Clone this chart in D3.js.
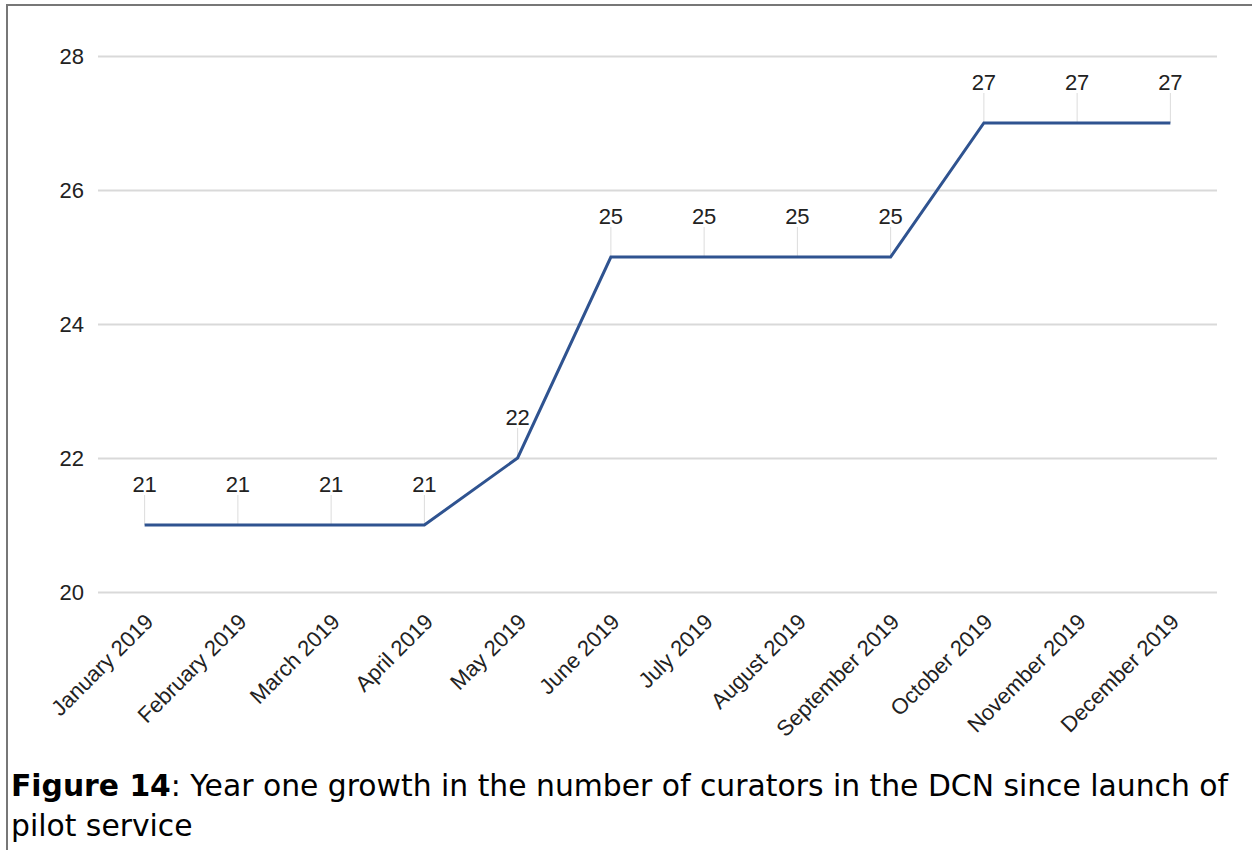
<!DOCTYPE html>
<html>
<head>
<meta charset="utf-8">
<script src="https://cdn.jsdelivr.net/npm/d3@7"></script>
<style>
  html, body { margin: 0; padding: 0; background: #fff; }
  svg { display: block; }
</style>
</head>
<body>
<svg id="chart" width="1252" height="850"></svg>
<script>
// Monthly curator counts for the first year of the pilot service
const months = ["January 2019", "February 2019", "March 2019", "April 2019", "May 2019", "June 2019",
                "July 2019", "August 2019", "September 2019", "October 2019", "November 2019", "December 2019"];
const curators = [21, 21, 21, 21, 22, 25, 25, 25, 25, 27, 27, 27];
const yTicks = [20, 22, 24, 26, 28];
const captionBold = "Figure 14";
const captionRest = ": Year one growth in the number of curators in the DCN since launch of";
const captionLine2 = "pilot service";

const svg = d3.select("#chart");
const W = 1252, H = 850;
const labelFont = "'Liberation Sans', Arial, sans-serif";
const labelSize = "22px";

// frame around the figure
svg.append("path")
  .attr("d", `M7,${H} V5 H${W}`)
  .attr("fill", "none")
  .attr("stroke", "#777")
  .attr("stroke-width", 2);

const plot = { left: 98, right: 1217, top: 56, bottom: 592 };

const x = d3.scalePoint()
  .domain(months)
  .range([plot.left, plot.right])
  .padding(0.5);

const y = d3.scaleLinear()
  .domain([20, 28])
  .range([plot.bottom, plot.top]);

// horizontal gridlines with y labels
const yAxis = d3.axisLeft(y).tickValues(yTicks).tickSize(-(plot.right - plot.left)).tickPadding(14);
const gy = svg.append("g")
  .attr("transform", `translate(${plot.left},0)`)
  .call(yAxis);
gy.select(".domain").remove();
gy.selectAll(".tick line").attr("stroke", "#d9d9d9").attr("stroke-width", 2);
gy.selectAll(".tick text")
  .attr("fill", "#222")
  .style("font-family", labelFont)
  .style("font-size", labelSize);

// rotated month labels
const gx = svg.append("g");
gx.selectAll("text")
  .data(months)
  .join("text")
  .attr("transform", d => `translate(${x(d) + 10},${plot.bottom + 31}) rotate(-45)`)
  .attr("text-anchor", "end")
  .attr("fill", "#222")
  .style("font-family", labelFont)
  .style("font-size", labelSize)
  .text(d => d);

// leader lines from each point up to its value label
const pts = months.map((m, i) => ({ m, v: curators[i] }));
svg.append("g").selectAll("line")
  .data(pts)
  .join("line")
  .attr("x1", d => x(d.m)).attr("x2", d => x(d.m))
  .attr("y1", d => y(d.v)).attr("y2", d => y(d.v) - 30)
  .attr("stroke", "#dcdcdc")
  .attr("stroke-width", 1);

// series line
const line = d3.line().x(d => x(d.m)).y(d => y(d.v));
svg.append("path")
  .datum(pts)
  .attr("d", line)
  .attr("fill", "none")
  .attr("stroke", "#2f5390")
  .attr("stroke-width", 3)
  .attr("stroke-linejoin", "miter");

// value labels
svg.append("g").selectAll("text")
  .data(pts)
  .join("text")
  .attr("x", d => x(d.m))
  .attr("y", d => y(d.v) - 33)
  .attr("text-anchor", "middle")
  .attr("fill", "#222")
  .style("font-family", labelFont)
  .style("font-size", labelSize)
  .text(d => d.v);

// caption
const cap = svg.append("text")
  .attr("x", 11)
  .attr("y", 796)
  .attr("fill", "#000")
  .style("font-family", "'DejaVu Sans', Verdana, sans-serif")
  .style("font-size", "29.8px");
cap.append("tspan").attr("font-weight", "bold").text(captionBold);
cap.append("tspan").text(captionRest);
svg.append("text")
  .attr("x", 11)
  .attr("y", 836)
  .attr("fill", "#000")
  .style("font-family", "'DejaVu Sans', Verdana, sans-serif")
  .style("font-size", "29.8px")
  .text(captionLine2);
</script>
</body>
</html>
